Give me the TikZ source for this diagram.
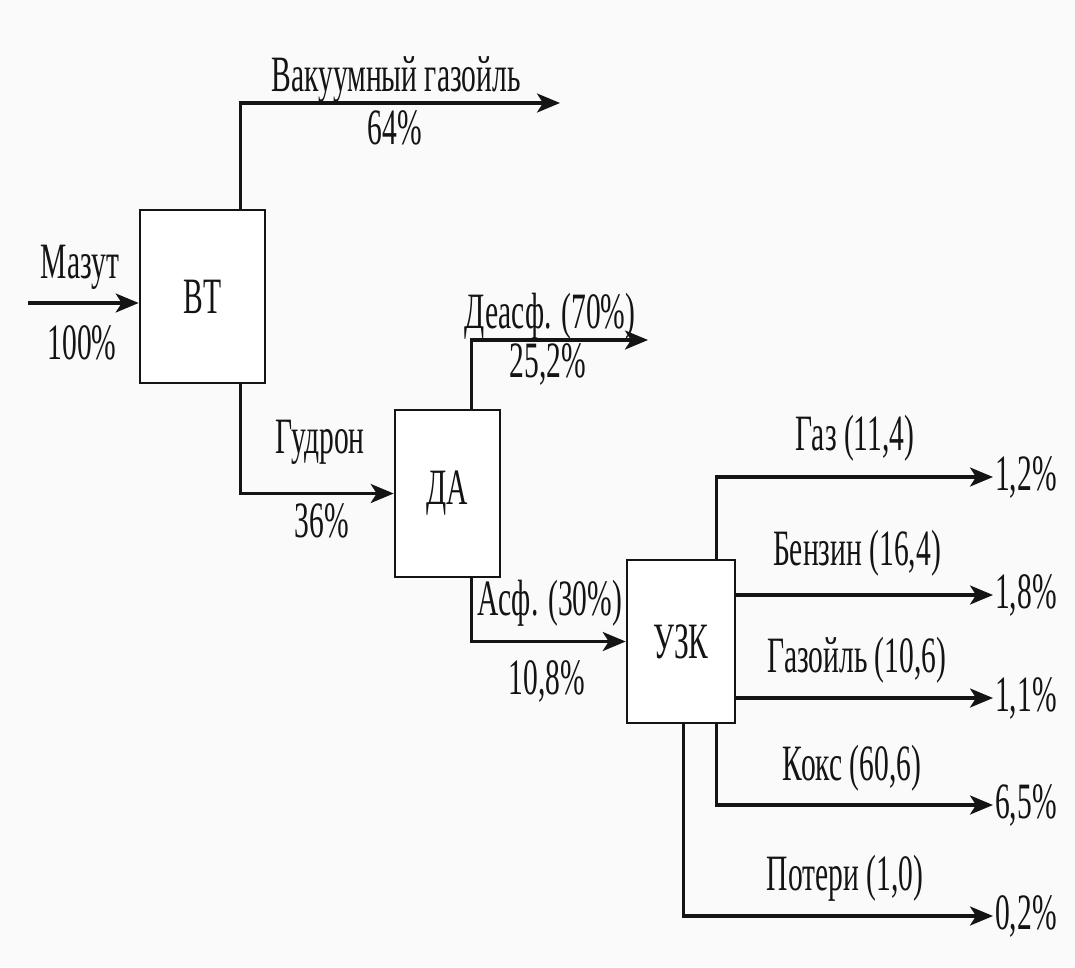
\documentclass[tikz,border=0pt]{standalone}
\usepackage{fontspec}
\setmainfont{Liberation Serif}[FakeStretch=0.58]
\usetikzlibrary{arrows.meta,positioning,calc}
\definecolor{ctinta}{HTML}{141414}
\definecolor{cfondo}{HTML}{FAFAFA}
\tikzset{
  ustan/.style={draw=ctinta,line width=1.5pt,fill=white,inner sep=0pt,
                font=\fontsize{29}{32}\selectfont,text=ctinta},
  potok/.style={-{Stealth[length=4.6mm,width=3.8mm,inset=1.2mm]},draw=ctinta,line width=1.8pt},
  podp/.style={font=\fontsize{29}{32}\selectfont,inner sep=1pt,text=ctinta},
  vyhod/.style={podp,anchor=west},
}

\begin{document}
\begin{tikzpicture}[x=0.02cm,y=-0.02cm]
\fill[cfondo] (0,0) rectangle (1075,967);
\useasboundingbox (0,0) rectangle (1075,967);

% установки
\node[ustan,minimum width=2.5cm,minimum height=3.46cm] (bt) at (202.5,296.5) {ВТ};
\node[ustan,minimum width=2.1cm,minimum height=3.34cm] (da) at (447.5,493.5) {ДА};
\node[ustan,minimum width=2.16cm,minimum height=3.26cm] (uzk) at (681,641.5) {УЗК};

% выходы УЗК
\node[vyhod] (p1) at (993,477) {1,2\%};
\node[vyhod] (p2) at (993,595) {1,8\%};
\node[vyhod] (p3) at (993,698) {1,1\%};
\node[vyhod] (p4) at (993,805) {6,5\%};
\node[vyhod] (p5) at (993,916) {0,2\%};

\coordinate (vh) at (28,303);
\coordinate (vgk) at (560,103);
\coordinate (dek) at (648,340);

\draw[potok] (vh) -- (vh -| bt.west);
\draw[potok] ($(bt.north west)+(102,0)$) |- (vgk);
\draw[potok] ($(bt.south west)+(102,0)$) |- (da.west);
\draw[potok] ($(da.north west)+(78,0)$) |- (dek);
\draw[potok] ($(da.south west)+(78,0)$) |- (uzk.west);
\draw[potok] ($(uzk.north west)+(91,0)$) |- (p1.west);
\draw[potok] (uzk.east |- p2.west) -- (p2.west);
\draw[potok] (uzk.east |- p3.west) -- (p3.west);
\draw[potok] ($(uzk.south west)+(91,0)$) |- (p4.west);
\draw[potok] ($(uzk.south west)+(58,0)$) |- (p5.west);

% подписи
\node[podp] (lmaz) at (80,267) {Мазут};
\node[podp] (lmazp) at (82,343) {100\%};
\node[podp] (lvg) at (396,80) {Вакуумный газойль};
\node[podp] (lvgp) at (395,128) {64\%};
\node[podp] (lgud) at (320,442) {Гудрон};
\node[podp] (lgudp) at (322,521) {36\%};
\node[podp] (ldeas) at (550,316) {Деасф. (70\%)};
\node[podp] (ldeasp) at (548,364) {25,2\%};
\node[podp] (lasf) at (550,603) {Асф. (30\%)};
\node[podp] (lasfp) at (547,681) {10,8\%};
\node[podp] (lgaz) at (855,438) {Газ (11,4)};
\node[podp] (lbenz) at (857,553) {Бензин (16,4)};
\node[podp] (lgzl) at (857,660) {Газойль (10,6)};
\node[podp] (lkoks) at (852,768) {Кокс (60,6)};
\node[podp] (lpot) at (845,878) {Потери (1,0)};

\end{tikzpicture}
\end{document}
